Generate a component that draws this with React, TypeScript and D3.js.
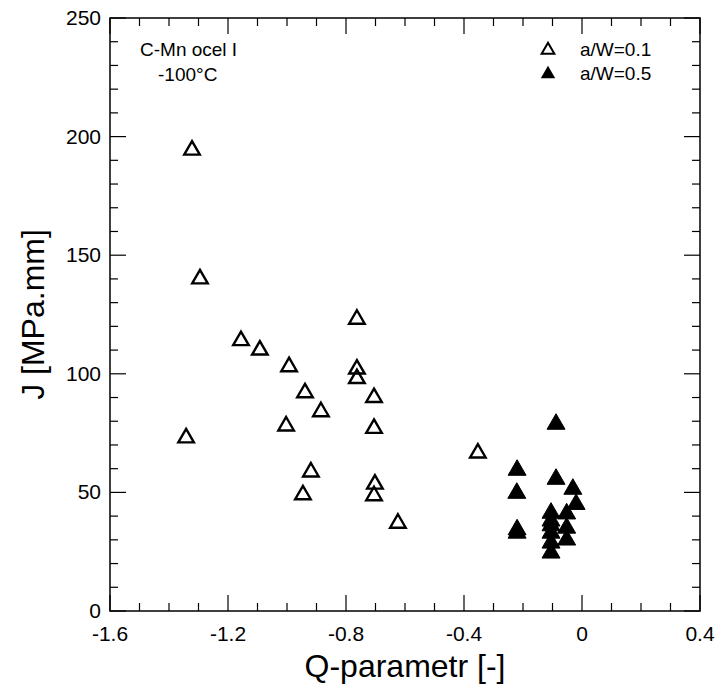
import React from 'react';
import * as d3 from 'd3';

const width = 715;
const height = 686;
const margin = { top: 18, right: 15, bottom: 75, left: 110 };

// a/W = 0.1 (open triangles)
const qOpen = [-1.322, -1.295, -1.156, -1.092, -0.993, -1.003, -0.939, -0.885, -0.919, -0.946, -1.342, -0.763, -0.763, -0.763, -0.705, -0.705, -0.702, -0.705, -0.624, -0.353];
const jOpen = [194.3, 140, 114, 110, 103, 78, 92, 84, 58.6, 49, 73, 123, 102, 98, 90, 77, 53.5, 48.6, 37, 66.6];

// a/W = 0.5 (filled triangles)
const qFull = [-0.088, -0.22, -0.088, -0.031, -0.221, -0.02, -0.105, -0.052, -0.22, -0.22, -0.105, -0.105, -0.105, -0.105, -0.105, -0.052, -0.052];
const jFull = [78.8, 59.4, 55.6, 51.4, 49.7, 45, 41.3, 41, 34.3, 32.9, 38, 36, 32.9, 28.7, 24.5, 35, 30];

const xMajor = [-1.6, -1.2, -0.8, -0.4, 0, 0.4];
const yMajor = [0, 50, 100, 150, 200, 250];

const legendLabels = ['a/W=0.1', 'a/W=0.5'];
const noteLines = ['C-Mn ocel I', '-100°C'];

export default function App() {
  const x = d3.scaleLinear().domain([-1.6, 0.4]).range([margin.left, width - margin.right]);
  const y = d3.scaleLinear().domain([0, 250]).range([height - margin.bottom, margin.top]);
  const x0 = x.range()[0], x1 = x.range()[1];
  const y0 = y.range()[0], y1 = y.range()[1];

  const xMinor = d3.range(-16, 5).map(i => i / 10).filter(v => !xMajor.some(m => Math.abs(m - v) < 1e-6));
  const yMinor = d3.range(0, 251, 10).filter(v => v % 50 !== 0);

  const triOpen = d3.symbol().type(d3.symbolTriangle).size(105)();
  const triFull = d3.symbol().type(d3.symbolTriangle).size(140)();
  const triLegOpen = d3.symbol().type(d3.symbolTriangle).size(70)();
  const triLegFull = d3.symbol().type(d3.symbolTriangle).size(90)();

  const font = 'Liberation Sans, Arial, sans-serif';
  const big = 16, small = 8;

  return (
    <svg width={width} height={height} style={{ position: 'absolute', left: 0, top: 0, background: '#fff' }} fontFamily={font}>
      {/* ticks on all four sides */}
      <g stroke="#000" strokeWidth={1.2}>
        {xMajor.map(v => (
          <g key={'xm' + v}>
            <line x1={x(v)} x2={x(v)} y1={y0} y2={y0 - big} />
            <line x1={x(v)} x2={x(v)} y1={y1} y2={y1 + big} />
          </g>
        ))}
        {xMinor.map(v => (
          <g key={'xn' + v}>
            <line x1={x(v)} x2={x(v)} y1={y0} y2={y0 - small} />
            <line x1={x(v)} x2={x(v)} y1={y1} y2={y1 + small} />
          </g>
        ))}
        {yMajor.map(v => (
          <g key={'ym' + v}>
            <line x1={x0} x2={x0 + big} y1={y(v)} y2={y(v)} />
            <line x1={x1} x2={x1 - big} y1={y(v)} y2={y(v)} />
          </g>
        ))}
        {yMinor.map(v => (
          <g key={'yn' + v}>
            <line x1={x0} x2={x0 + small} y1={y(v)} y2={y(v)} />
            <line x1={x1} x2={x1 - small} y1={y(v)} y2={y(v)} />
          </g>
        ))}
      </g>
      <rect x={x0} y={y1} width={x1 - x0} height={y0 - y1} fill="none" stroke="#000" strokeWidth={1.5} />

      {xMajor.map(v => (
        <text key={'xl' + v} x={x(v)} y={y0 + 30} textAnchor="middle" fontSize={21}>{v === 0 ? '0' : String(v)}</text>
      ))}
      {yMajor.map(v => (
        <text key={'yl' + v} x={x0 - 9} y={y(v) + 7} textAnchor="end" fontSize={21}>{v}</text>
      ))}

      <text x={(x0 + x1) / 2} y={677} textAnchor="middle" fontSize={32}>Q-parametr [-]</text>
      <text transform={`translate(44,${(y0 + y1) / 2}) rotate(-90)`} textAnchor="middle" fontSize={32}>J [MPa.mm]</text>

      <text x={140} y={56} fontSize={19}>{noteLines[0]}</text>
      <text x={158} y={81} fontSize={19}>{noteLines[1]}</text>

      {qOpen.map((q, i) => (
        <path key={'o' + i} d={triOpen} transform={`translate(${x(q)},${y(jOpen[i])})`} fill="none" stroke="#000" strokeWidth={2.4} />
      ))}
      {qFull.map((q, i) => (
        <path key={'f' + i} d={triFull} transform={`translate(${x(q)},${y(jFull[i])})`} fill="#000" stroke="#000" strokeWidth={1} />
      ))}

      <path d={triLegOpen} transform="translate(548,50)" fill="none" stroke="#000" strokeWidth={2} />
      <path d={triLegFull} transform="translate(548,74)" fill="#000" />
      <text x={580} y={56} fontSize={19}>{legendLabels[0]}</text>
      <text x={580} y={80} fontSize={19}>{legendLabels[1]}</text>
    </svg>
  );
}
